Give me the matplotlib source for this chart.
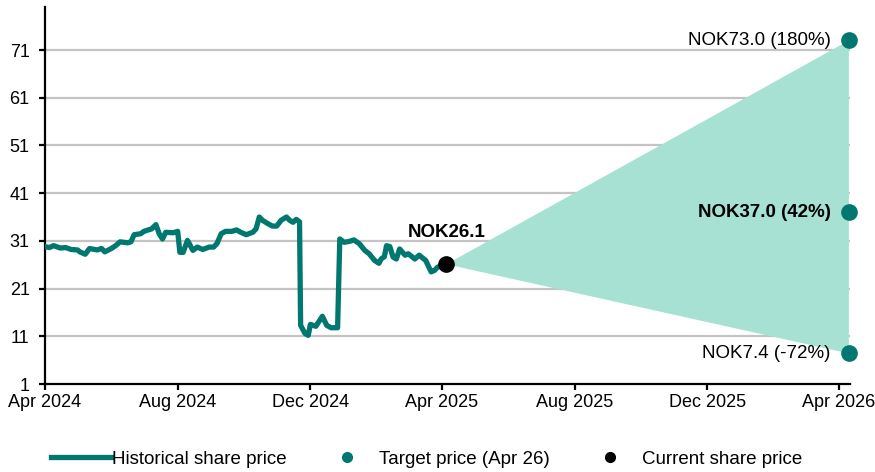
import pandas as pd
import matplotlib.pyplot as plt
import matplotlib.dates as mdates
from matplotlib.lines import Line2D

# ======================================================
# Setup
# ======================================================

plt.rcParams["font.family"] = ["Liberation Sans", "DejaVu Sans"]

LINE_COLOR = "#00786f"
FILL_COLOR = "#a6e1d3"
GRID_COLOR = "#c4c4c4"

# ======================================================
# DATA
# ======================================================

hist_dates = [
    "2024-04-01", "2024-04-05", "2024-04-09", "2024-04-15", "2024-04-20",
    "2024-04-25", "2024-05-01", "2024-05-03", "2024-05-08", "2024-05-12",
    "2024-05-19", "2024-05-23", "2024-05-26", "2024-06-01", "2024-06-05",
    "2024-06-09", "2024-06-16", "2024-06-19", "2024-06-22", "2024-06-28",
    "2024-07-01", "2024-07-05", "2024-07-08", "2024-07-12", "2024-07-15",
    "2024-07-18", "2024-07-21", "2024-07-28", "2024-08-01", "2024-08-03",
    "2024-08-06", "2024-08-10", "2024-08-15", "2024-08-19", "2024-08-24",
    "2024-08-30", "2024-09-03", "2024-09-06", "2024-09-10", "2024-09-14",
    "2024-09-20", "2024-09-24", "2024-09-28", "2024-10-03", "2024-10-09",
    "2024-10-12", "2024-10-15", "2024-10-18", "2024-10-23", "2024-10-27",
    "2024-10-31", "2024-11-04", "2024-11-09", "2024-11-12", "2024-11-15",
    "2024-11-18", "2024-11-21", "2024-11-22", "2024-11-26", "2024-11-29",
    "2024-12-01", "2024-12-06", "2024-12-12", "2024-12-16", "2024-12-20",
    "2024-12-26", "2024-12-28", "2025-01-01", "2025-01-06", "2025-01-10",
    "2025-01-15", "2025-01-20", "2025-01-24", "2025-01-29", "2025-02-02",
    "2025-02-04", "2025-02-07", "2025-02-09", "2025-02-12", "2025-02-15",
    "2025-02-18", "2025-02-21", "2025-02-26", "2025-03-01", "2025-03-07",
    "2025-03-11", "2025-03-17", "2025-03-22", "2025-03-25", "2025-03-28",
    "2025-04-05",
]

hist_prices = [
    29.8, 29.6, 30.0, 29.5, 29.6,
    29.2, 29.1, 28.7, 28.2, 29.4,
    29.1, 29.4, 28.7, 29.4, 30.0,
    30.8, 30.6, 30.8, 32.3, 32.5,
    33.0, 33.3, 33.5, 34.4, 32.5,
    31.4, 32.8, 32.7, 33.0, 28.6,
    28.6, 31.1, 29.0, 29.7, 29.2,
    29.7, 29.7, 30.4, 32.5, 33.0,
    33.0, 33.3, 32.8, 32.3, 32.8,
    33.5, 36.0, 35.3, 34.6, 34.1,
    34.1, 35.3, 36.0, 35.3, 34.9,
    35.5, 35.0, 13.3, 11.6, 11.2,
    13.5, 13.1, 15.2, 13.3, 12.8,
    12.8, 31.4, 30.7, 30.9, 31.2,
    30.4, 29.0, 28.3, 26.9, 26.3,
    27.2, 27.7, 30.0, 29.8, 27.6,
    27.2, 29.3, 28.0, 28.3, 27.2,
    28.0, 26.9, 24.5, 24.8, 25.5,
    26.1,
]

current_date = "2025-04-05"
current_price = 26.1

target_date = "2026-04-10"
target_prices = [73.0, 37.0, 7.4]
target_labels = ["NOK73.0 (180%)", "NOK37.0 (42%)", "NOK7.4 (-72%)"]
target_bold = [False, True, False]

y_ticks = [1, 11, 21, 31, 41, 51, 61, 71]

# ======================================================
# PLOT
# ======================================================

def main():
    dates = pd.to_datetime(hist_dates)
    cur_d = pd.Timestamp(current_date)
    tgt_d = pd.Timestamp(target_date)

    fig = plt.figure(figsize=(8.75, 4.72), dpi=100)
    ax = fig.add_axes([0.0514, 0.1864, 0.9200, 0.7986])

    # gridlines (not at the bottom)
    for y in y_ticks[1:]:
        ax.axhline(y, color=GRID_COLOR, lw=1.6, zorder=0)

    # target range cone
    ax.fill(
        [cur_d, tgt_d, tgt_d],
        [current_price, max(target_prices), min(target_prices)],
        color=FILL_COLOR, lw=0, zorder=1,
    )

    ax.plot(dates, hist_prices, color=LINE_COLOR, lw=3.8,
            solid_joinstyle="round", zorder=3)

    ax.plot([cur_d], [current_price], "o", color="black", ms=11,
            zorder=5, clip_on=False)
    ax.plot([tgt_d] * len(target_prices), target_prices, "o",
            color=LINE_COLOR, ms=11, zorder=5, clip_on=False)

    ax.annotate(f"NOK{current_price}", (cur_d, current_price),
                xytext=(0, 23), textcoords="offset points",
                ha="center", va="center", fontsize=13.5, fontweight="bold")

    for p, lab, b in zip(target_prices, target_labels, target_bold):
        ax.annotate(lab, (tgt_d, p), xytext=(-13, 0),
                    textcoords="offset points", ha="right", va="center",
                    fontsize=13.5, fontweight="bold" if b else "normal")

    ax.set_xlim(pd.Timestamp("2024-04-01"), tgt_d + pd.Timedelta(days=1))
    ax.set_ylim(1, 80)
    ax.set_yticks(y_ticks)

    ax.xaxis.set_major_locator(mdates.MonthLocator(bymonth=[4, 8, 12]))
    ax.xaxis.set_major_formatter(mdates.DateFormatter("%b %Y"))

    for s in ["top", "right"]:
        ax.spines[s].set_visible(False)
    for s in ["left", "bottom"]:
        ax.spines[s].set_linewidth(1.6)
    ax.tick_params(axis="both", length=4, width=1.6, labelsize=13,
                   direction="out")
    ax.tick_params(axis="y", pad=7)
    ax.tick_params(axis="x", pad=3)

    handles = [
        Line2D([], [], color=LINE_COLOR, lw=3.8),
        Line2D([], [], color=LINE_COLOR, marker="o", ls="none", ms=7),
        Line2D([], [], color="black", marker="o", ls="none", ms=7),
    ]
    fig.legend(
        handles,
        ["Historical share price", "Target price (Apr 26)",
         "Current share price"],
        loc="center", bbox_to_anchor=(0.487, 0.027), ncol=3, frameon=False,
        fontsize=13.5, handlelength=3.2, handletextpad=0.1,
        columnspacing=1.6,
    )

    fig.savefig("out.png", dpi=100)


if __name__ == "__main__":
    main()
